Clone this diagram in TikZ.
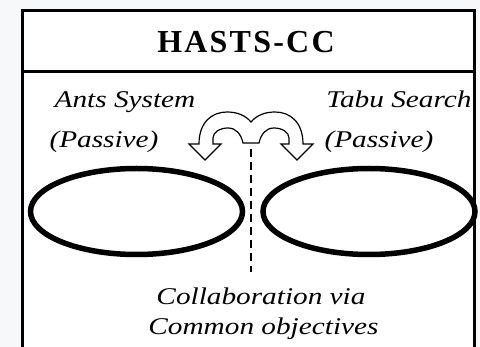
\documentclass[tikz,border=0pt]{standalone}
\usepackage{fontspec}
\setmainfont{Liberation Serif}
\newfontfamily\labelfont[FakeStretch=1.22]{Liberation Serif}
\newfontfamily\headfont[LetterSpace=7]{Liberation Serif}
\usetikzlibrary{shapes.geometric}
\definecolor{paper}{RGB}{247,248,250}

\begin{document}
\begin{tikzpicture}[
        x=1pt, y=-1pt,
        frame/.style={draw, line width=2.6pt},
        heading/.style={font=\headfont\bfseries\fontsize{32}{36}\selectfont, inner sep=0pt},
        caption/.style={font=\labelfont\itshape\fontsize{24}{28}\selectfont, inner sep=0pt, anchor=base},
        ring/.style={draw, ellipse, line width=5.5pt, minimum width=212pt, minimum height=86pt, inner sep=0pt},
        swap/.style={draw, fill=white, line width=1.2pt, line join=miter},
        divider/.style={draw, line width=1.6pt, dash pattern=on 8pt off 5pt}
    ]
        \useasboundingbox (0,0) rectangle (480,347);
        \fill[paper] (0,0) rectangle (480,347);
        \fill[white] (22.5,10.5) rectangle (474.5,360);

        % Frame and heading
        \draw[frame] (22.5,360) -- (22.5,10.5) -- (474.5,10.5) -- (474.5,360);
        \draw[frame] (22.5,71.5) -- (474.5,71.5);
        \node [heading] (title) at (246,42.5) {HASTS-CC};

        % Two systems
        \node [ring] (ants) at (136.5,211.5) {};
        \node [ring] (tabu) at (369,211.5) {};
        \node [caption] (antslbl) at (125,108) {Ants System};
        \node [caption] (antspas) at (104,148) {(Passive)};
        \node [caption] (tabulbl) at (399,108) {Tabu Search};
        \node [caption] (tabupas) at (379,148) {(Passive)};

        % Exchange arrows over the split
        \path [swap] (205,160) -- (189,144) -- (199,144)
            .. controls (199,122) and (212,112) .. (227,112)
            .. controls (238,112) and (246,116) .. (251,122)
            .. controls (256,116) and (264,112) .. (275,112)
            .. controls (290,112) and (303,122) .. (303,144)
            -- (313,144) -- (297,160) -- (281,144) -- (289,144) -- (289,138)
            .. controls (289,132) and (282,128) .. (274,128)
            .. controls (266,128) and (261,134) .. (259,143)
            -- (243,143)
            .. controls (241,134) and (236,128) .. (228,128)
            .. controls (220,128) and (213,132) .. (213,138)
            -- (213,144) -- (221,144) -- cycle;

        \coordinate (divtop) at (251,149);
        \coordinate (divbot) at (251,272);
        \path [divider] (divtop) -- (divbot);

        % Collaboration note
        \node [caption] (collab1) at (261,305) {Collaboration via};
        \node [caption] (collab2) at (263.5,335) {Common objectives};
    \end{tikzpicture}
\end{document}
